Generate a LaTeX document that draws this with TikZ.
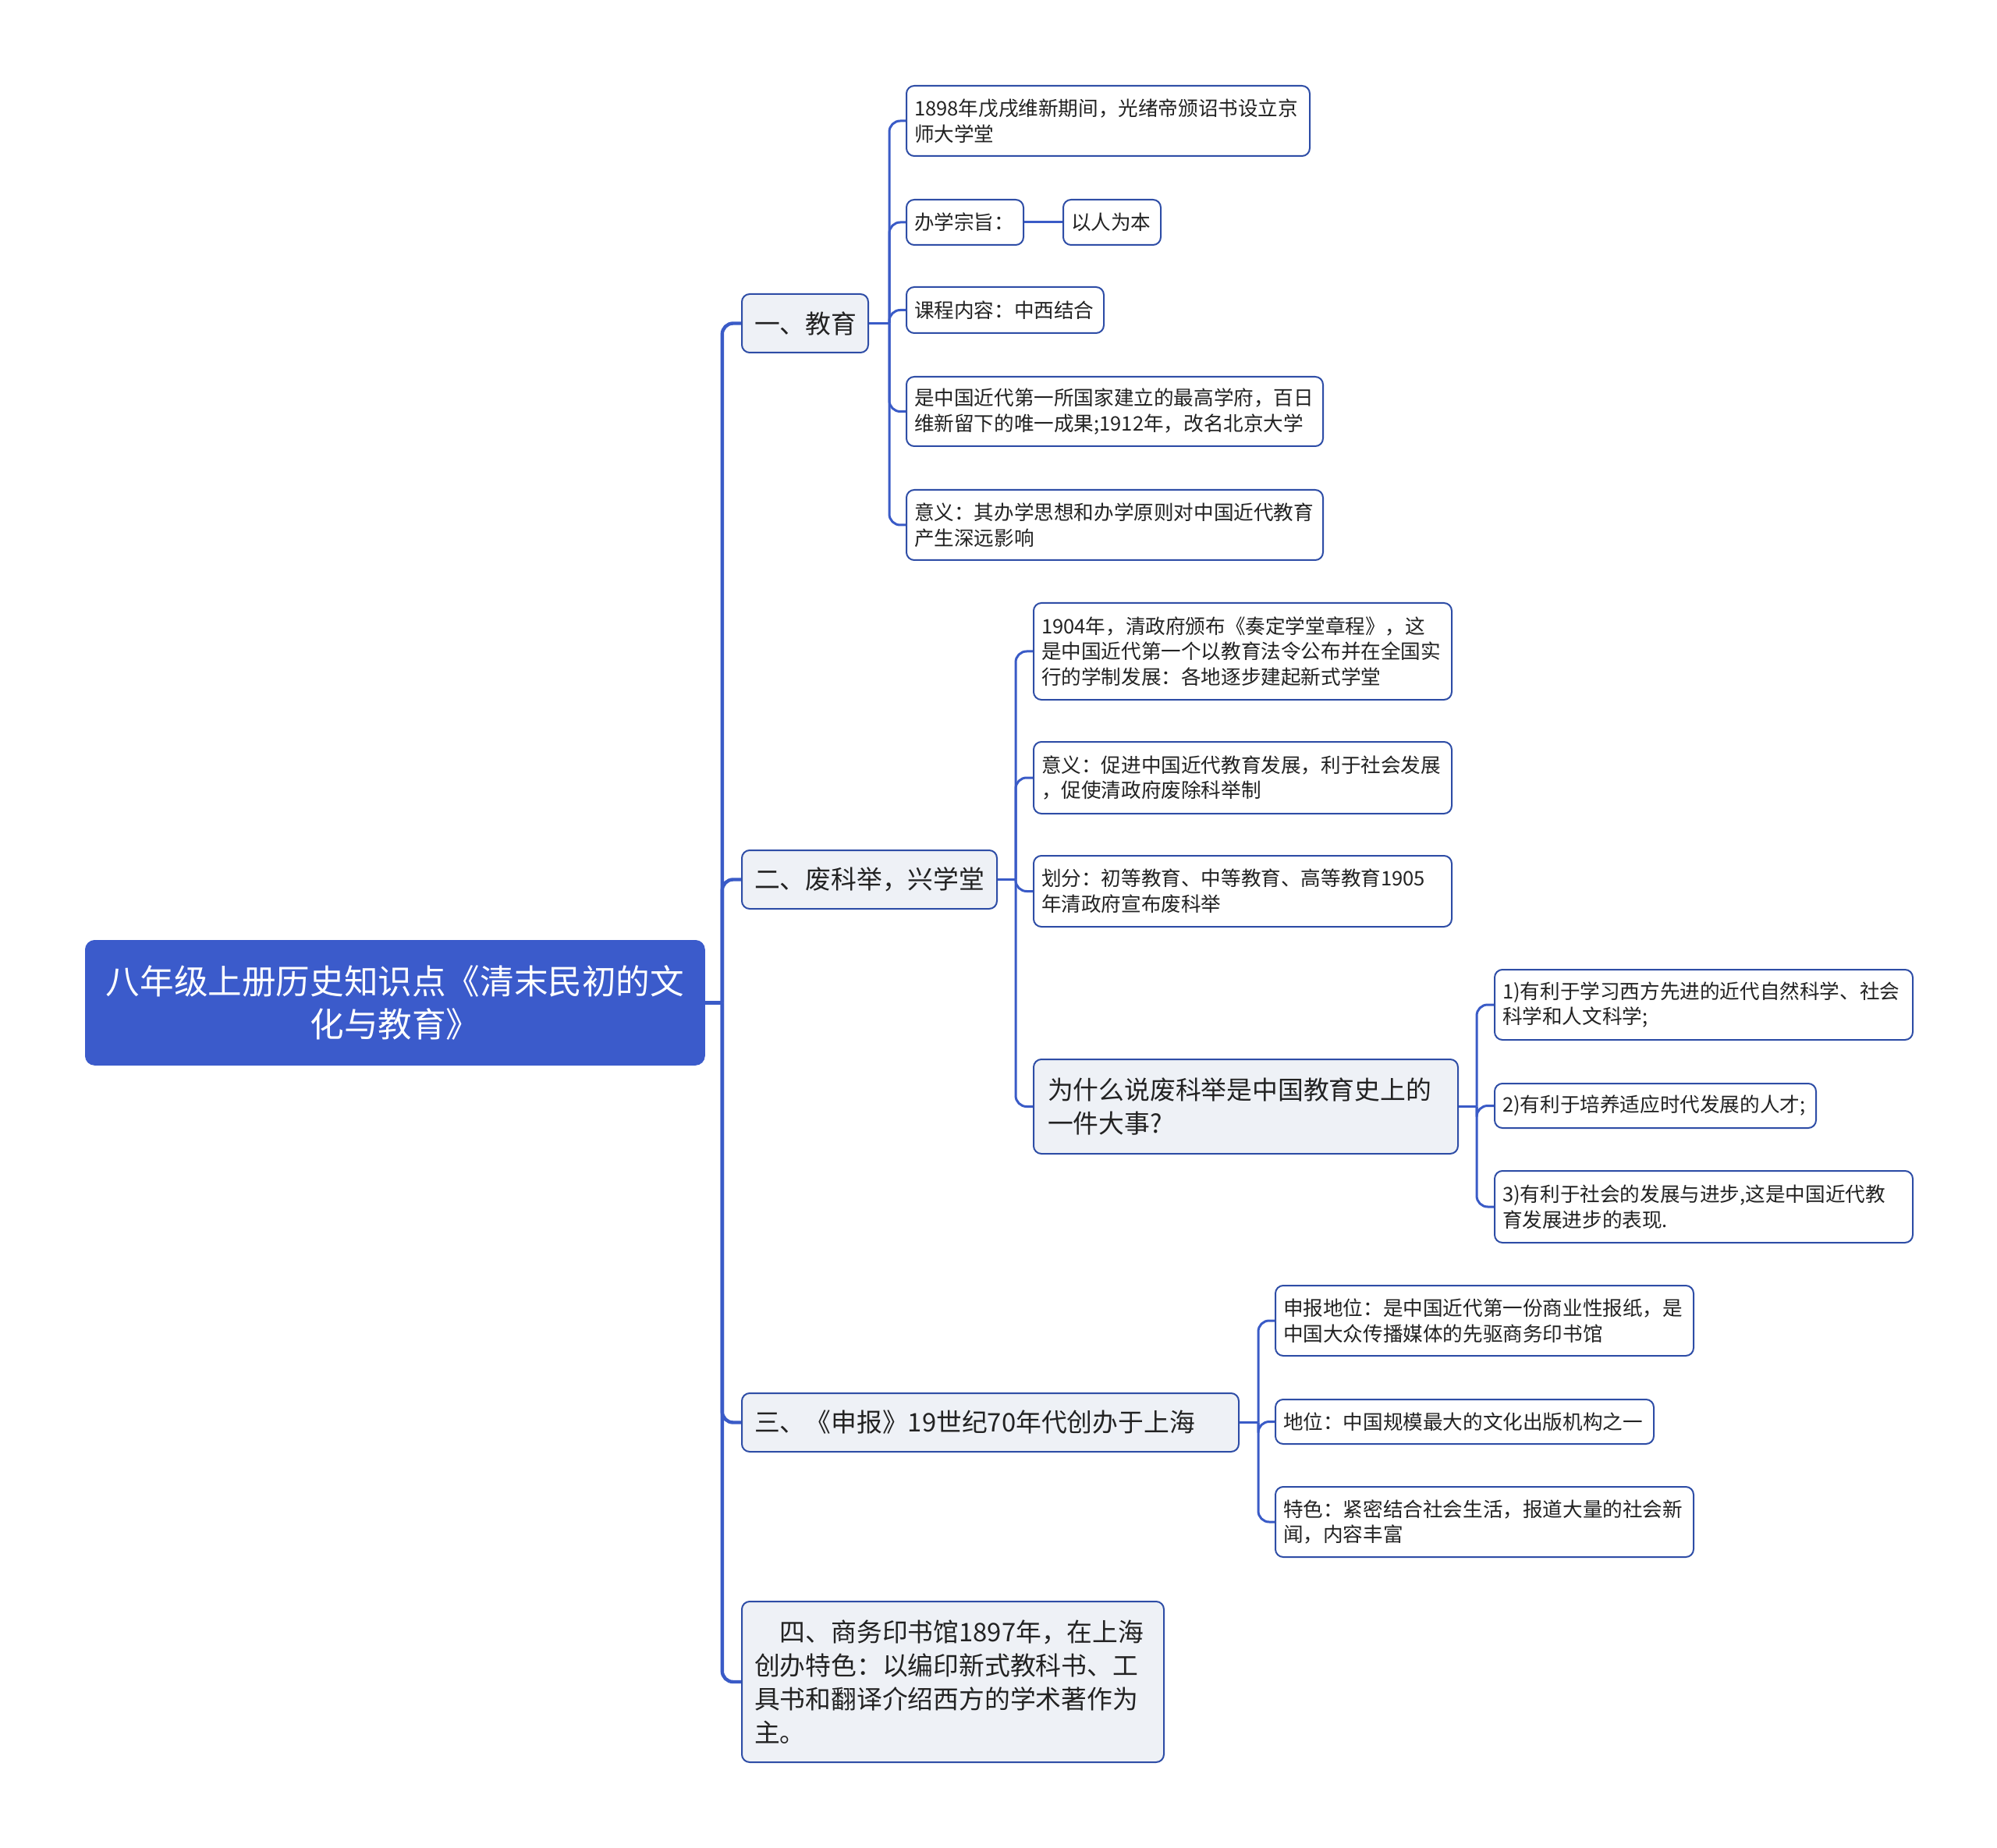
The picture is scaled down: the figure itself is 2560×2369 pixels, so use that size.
\documentclass[tikz,border=0pt]{standalone}
\usepackage{fontspec}
\setmainfont{Noto Sans CJK SC}
\usepackage{tikz}
\definecolor{rootblue}{HTML}{3B5BCB}
\definecolor{linkblue}{HTML}{3A5BC7}
\definecolor{edgeblue}{HTML}{2E4DA6}
\definecolor{branchbg}{HTML}{EEF1F6}
\definecolor{inkgray}{HTML}{222222}
\usetikzlibrary{positioning}
\tikzset{
	rootnode/.style={fill=rootblue, draw=rootblue, rounded corners=6pt, text=white,
		align=center, inner xsep=10pt, inner ysep=0pt, anchor=north west,
		font=\fontsize{21.8pt}{27.8pt}\selectfont},
	branch/.style={draw=edgeblue, fill=branchbg, rounded corners=5pt, line width=1pt,
		align=left, inner xsep=8pt, inner ysep=0pt, anchor=north west, text=inkgray,
		font=\fontsize{16.4pt}{21.5pt}\selectfont},
	leaf/.style={draw=edgeblue, fill=white, rounded corners=5pt, line width=1pt,
		align=left, inner xsep=5pt, inner ysep=0pt, anchor=north west, text=inkgray,
		font=\fontsize{12.8pt}{16.3pt}\selectfont},
	trunk/.style={draw=linkblue, line width=2.2pt, rounded corners=7pt},
	link/.style={draw=linkblue, line width=1.5pt, rounded corners=7pt}
}
\begin{document}
\begin{tikzpicture}[x=0.5pt, y=-0.5pt]
	\useasboundingbox[fill=white] (0,0) rectangle (2560,2369);
	% root
	\node[rootnode, text width=377pt, minimum height=80pt] (root) at (109,1205)
		{八年级上册历史知识点《清末民初的文\\化与教育》};
	% main branches
	\node[branch, text width=65pt, minimum height=37.5pt] (edu) at (950,376) {一、教育};
	\node[branch, text width=147.5pt, minimum height=37.5pt] (exam) at (950,1089) {二、废科举，兴学堂};
	\node[branch, text width=302.5pt, minimum height=37.5pt] (paper) at (950,1785) {三、《申报》19世纪70年代创办于上海};
	\node[branch, text width=254.5pt, minimum height=103pt] (press) at (950,2052)
		{\hspace*{1em}四、商务印书馆1897年，在上海\\创办特色：以编印新式教科书、工\\具书和翻译介绍西方的学术著作为\\主。};
	% 一、教育
	\node[leaf, text width=248.5pt, minimum height=45pt] (edu1) at (1161,109)
		{1898年戊戌维新期间，光绪帝颁诏书设立京\\师大学堂};
	\node[leaf, text width=65pt, minimum height=29pt] (edu2) at (1161,255) {办学宗旨：};
	\node[leaf, text width=52.5pt, minimum height=29pt] (edu2a) at (1362,255) {以人为本};
	\node[leaf, text width=116.5pt, minimum height=29.5pt] (edu3) at (1161,367) {课程内容：中西结合};
	\node[leaf, text width=257pt, minimum height=44.5pt] (edu4) at (1161,482)
		{是中国近代第一所国家建立的最高学府，百日\\维新留下的唯一成果;1912年，改名北京大学};
	\node[leaf, text width=257pt, minimum height=45pt] (edu5) at (1161,627)
		{意义：其办学思想和办学原则对中国近代教育\\产生深远影响};
	% 二、废科举，兴学堂
	\node[leaf, text width=258pt, minimum height=62pt] (exam1) at (1324,772)
		{1904年，清政府颁布《奏定学堂章程》，这\\是中国近代第一个以教育法令公布并在全国实\\行的学制发展：各地逐步建起新式学堂};
	\node[leaf, text width=258pt, minimum height=46pt] (exam2) at (1324,950)
		{意义：促进中国近代教育发展，利于社会发展\\，促使清政府废除科举制};
	\node[leaf, text width=258pt, minimum height=45.5pt] (exam3) at (1324,1096)
		{划分：初等教育、中等教育、高等教育1905\\年清政府宣布废科举};
	\node[branch, inner xsep=9pt, text width=254pt, minimum height=60.5pt] (why) at (1324,1357)
		{为什么说废科举是中国教育史上的\\一件大事?};
	\node[leaf, text width=258pt, minimum height=45pt] (why1) at (1915,1242)
		{1)有利于学习西方先进的近代自然科学、社会\\科学和人文科学;};
	\node[leaf, text width=196pt, minimum height=28.5pt] (why2) at (1915,1388)
		{2)有利于培养适应时代发展的人才;};
	\node[leaf, text width=258pt, minimum height=46pt] (why3) at (1915,1500)
		{3)有利于社会的发展与进步,这是中国近代教\\育发展进步的表现.};
	% 三、《申报》
	\node[leaf, text width=258pt, minimum height=45pt] (paper1) at (1634,1647)
		{申报地位：是中国近代第一份商业性报纸，是\\中国大众传播媒体的先驱商务印书馆};
	\node[leaf, text width=232.5pt, minimum height=28.5pt] (paper2) at (1634,1793)
		{地位：中国规模最大的文化出版机构之一};
	\node[leaf, text width=258pt, minimum height=45pt] (paper3) at (1634,1905)
		{特色：紧密结合社会生活，报道大量的社会新\\闻，内容丰富};
	% junctions
	\coordinate (rootj) at ([xshift=11pt]root.east);
	\coordinate (eduj) at ([xshift=13pt]edu.east);
	\coordinate (examj) at ([xshift=11.5pt]exam.east);
	\coordinate (whyj) at ([xshift=11.5pt]why.east);
	\coordinate (paperj) at ([xshift=12pt]paper.east);
	% connectors
	\draw[trunk] (root.east) -- (rootj);
	\foreach \b in {edu, exam, paper, press}
		\draw[trunk] (rootj) |- (\b.west);
	\draw[link] (edu.east) -- (eduj);
	\foreach \c in {edu1, edu2, edu3, edu4, edu5}
		\draw[link] (eduj) |- (\c.west);
	\draw[link] (edu2.east) -- (edu2a.west);
	\draw[link] (exam.east) -- (examj);
	\foreach \c in {exam1, exam2, exam3, why}
		\draw[link] (examj) |- (\c.west);
	\draw[link] (why.east) -- (whyj);
	\foreach \c in {why1, why2, why3}
		\draw[link] (whyj) |- (\c.west);
	\draw[link] (paper.east) -- (paperj);
	\foreach \c in {paper1, paper2, paper3}
		\draw[link] (paperj) |- (\c.west);
\end{tikzpicture}
\end{document}
